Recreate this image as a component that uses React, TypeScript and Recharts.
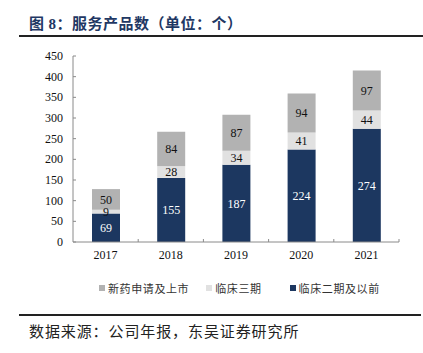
import { BarChart, Bar, XAxis, YAxis, LabelList } from "recharts";

const years = ["2017", "2018", "2019", "2020", "2021"];
const phase2 = [69, 155, 187, 224, 274];
const phase3 = [9, 28, 34, 41, 44];
const filed = [50, 84, 87, 94, 97];
const yTicks = [0, 50, 100, 150, 200, 250, 300, 350, 400, 450];

const series = [
  { key: "filed", name: "新药申请及上市", color: "#B2B2B2", label: "#111" },
  { key: "phase3", name: "临床三期", color: "#E1E1E1", label: "#111" },
  { key: "phase2", name: "临床二期及以前", color: "#1C3760", label: "#fff" },
];

const data = years.map((y, i) => ({
  year: y,
  phase2: phase2[i],
  phase3: phase3[i],
  filed: filed[i],
}));

const NUM_FONT = "'Liberation Serif', 'Times New Roman', serif";
const CJK_FONT = "'Noto Sans CJK SC', 'Noto Sans', sans-serif";
const AXIS = "#8a8a8a";

// y tick: label plus a short inward tick mark on the axis line
function YTick(props: any) {
  const { x, y, payload } = props;
  const axisX = x + 10;
  return (
    <g>
      <line x1={axisX} x2={axisX + 3} y1={y} y2={y} stroke={AXIS} />
      <text x={x} y={y} dy={4} textAnchor="end" fontSize={12} fill="#111" fontFamily={NUM_FONT}>
        {payload.value}
      </text>
    </g>
  );
}

// x tick: label under the band center, tick mark at the band edge
function XTick(props: any) {
  const { x, y, payload, width } = props;
  const band = width / years.length;
  const axisY = y - 4;
  return (
    <g>
      <line x1={x + band / 2} x2={x + band / 2} y1={axisY} y2={axisY - 3} stroke={AXIS} />
      <text x={x} y={y} dy={13} textAnchor="middle" fontSize={12} fill="#111" fontFamily={NUM_FONT}>
        {payload.value}
      </text>
    </g>
  );
}

export default function App() {
  return (
    <div style={{ position: "absolute", left: 0, top: 0, width: 423, height: 353, background: "#fff" }}>
      <div
        style={{
          position: "absolute",
          left: 29,
          top: 12,
          fontFamily: CJK_FONT,
          fontSize: 15,
          fontWeight: 700,
          color: "#1F3864",
          whiteSpace: "nowrap",
          letterSpacing: 0.5,
        }}
      >
        图 <span style={{ fontFamily: NUM_FONT }}>8</span>：服务产品数（单位：个）
      </div>
      <div style={{ position: "absolute", left: 19, top: 35, width: 404, height: 2, background: "#222" }} />

      <div style={{ position: "absolute", left: 0, top: 0 }}>
        <BarChart
          width={423}
          height={280}
          data={data}
          margin={{ top: 56, right: 24, bottom: 14, left: 13 }}
          barSize={28}
        >
          <YAxis
            width={60}
            domain={[0, 450]}
            ticks={yTicks}
            interval={0}
            tickLine={false}
            tickSize={0}
            tickMargin={10}
            axisLine={{ stroke: AXIS }}
            tick={<YTick />}
          />
          <XAxis
            dataKey="year"
            height={24}
            tickLine={false}
            tickSize={0}
            tickMargin={4}
            axisLine={{ stroke: AXIS }}
            tick={<XTick />}
          />
          {[...series].reverse().map((s) => (
            <Bar key={s.key} dataKey={s.key} name={s.name} stackId="a" fill={s.color} isAnimationActive={false}>
              <LabelList
                dataKey={s.key}
                position="center"
                fill={s.label}
                fontSize={12}
                fontFamily={NUM_FONT}
              />
            </Bar>
          ))}
        </BarChart>
      </div>

      <div
        style={{
          position: "absolute",
          left: 99,
          top: 280,
          display: "flex",
          alignItems: "center",
          fontFamily: CJK_FONT,
          fontSize: 11,
          color: "#333",
          whiteSpace: "nowrap",
          letterSpacing: 0.6,
        }}
      >
        {series.map((s, i) => (
          <div key={s.key} style={{ display: "flex", alignItems: "center", marginRight: i === 0 ? 17 : 28 }}>
            <span style={{ display: "inline-block", width: 6, height: 6, background: s.color, marginRight: 3 }} />
            <span>{s.name}</span>
          </div>
        ))}
      </div>

      <div style={{ position: "absolute", left: 19, top: 314, width: 402, height: 2, background: "#222" }} />
      <div
        style={{
          position: "absolute",
          left: 29,
          top: 320,
          fontFamily: CJK_FONT,
          fontSize: 15,
          color: "#222",
          whiteSpace: "nowrap",
          letterSpacing: 0.9,
        }}
      >
        数据来源：公司年报，东吴证券研究所
      </div>
    </div>
  );
}
